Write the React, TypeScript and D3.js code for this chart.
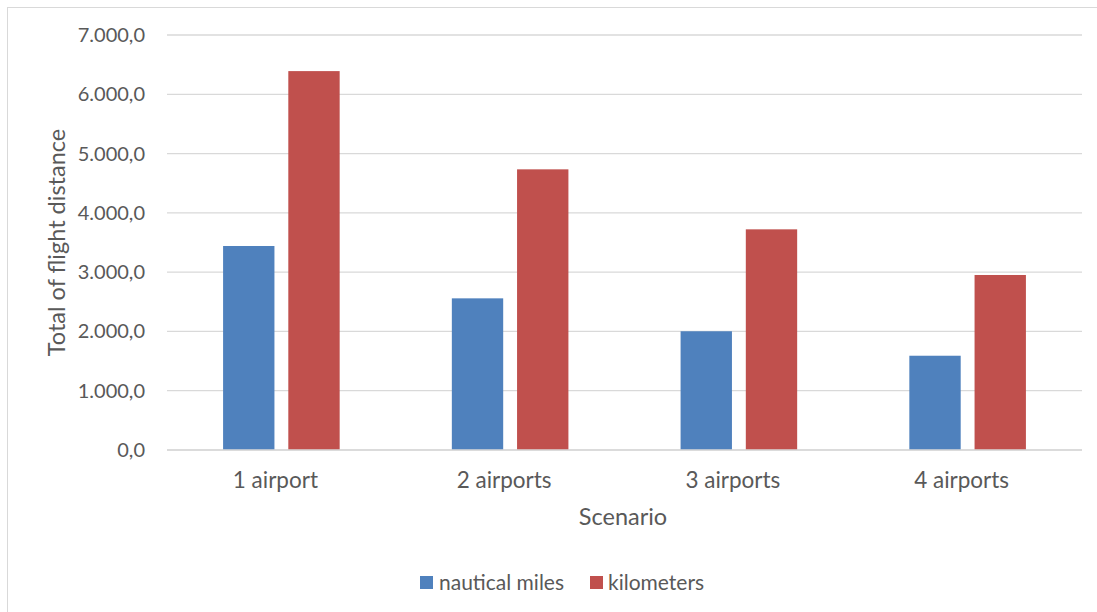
import React from "react";
import * as d3 from "d3";

const categories = ["1 airport", "2 airports", "3 airports", "4 airports"];
const seriesNames = ["nautical miles", "kilometers"];
const nauticalMiles = [3441, 2558, 2003, 1590];
const kilometers = [6391, 4734, 3722, 2952];
const yTicks = [0, 1000, 2000, 3000, 4000, 5000, 6000, 7000];
const colors = ["#4f81bd", "#c0504d"];

const W = 1097;
const H = 612;
const plot = { left: 167, right: 1082, top: 35, bottom: 450 };

const locale = d3.formatLocale({ decimal: ",", thousands: ".", grouping: [3], currency: ["", ""] });
const fmt = locale.format(",.1f");

export default function App() {
  const x0 = d3.scaleBand<string>().domain(categories).range([plot.left, plot.right]).paddingInner(0).paddingOuter(0);
  const y = d3.scaleLinear().domain([0, 7000]).range([plot.bottom, plot.top]);
  const bw = x0.bandwidth();
  const barW = bw * 0.2245;
  const gap = barW * 0.27;
  const series = [nauticalMiles, kilometers];
  const font = "Lato, 'Carlito', Calibri, sans-serif";
  const textColor = "#595959";

  return (
    <svg width={W} height={H} style={{ position: "absolute", left: 0, top: 0, background: "#fff" }} fontFamily={font}>
      <rect x={0} y={0} width={W} height={H} fill="#fff" />
      <rect x={7.5} y={7.5} width={W + 20} height={H + 20} fill="none" stroke="#d9d9d9" strokeWidth={1} />
      {yTicks.map((t) => (
        <g key={t}>
          <line x1={plot.left} x2={plot.right} y1={y(t)} y2={y(t)} stroke="#d9d9d9" strokeWidth={1.3} />
          <text x={145} y={y(t)} dy="0.35em" textAnchor="end" fontSize={20} fill={textColor}>
            {fmt(t)}
          </text>
        </g>
      ))}
      {categories.map((c, i) => {
        const cx = (x0(c) as number) + bw / 2;
        return (
          <g key={c}>
            {series.map((s, j) => {
              const bx = j === 0 ? cx - gap / 2 - barW : cx + gap / 2;
              return (
                <rect key={j} x={bx} y={y(s[i])} width={barW} height={y(0) - y(s[i])} fill={colors[j]} />
              );
            })}
            <text x={cx - 6} y={480} dy="0.35em" textAnchor="middle" fontSize={22.5} fill={textColor}>
              {c}
            </text>
          </g>
        );
      })}
      <line x1={plot.left} x2={plot.right} y1={y(0)} y2={y(0)} stroke="#d9d9d9" strokeWidth={1.3} />
      <text x={623} y={517} dy="0.35em" textAnchor="middle" fontSize={23.5} fill={textColor}>
        Scenario
      </text>
      <text
        transform={`translate(57,${(plot.top + plot.bottom) / 2}) rotate(-90)`}
        dy="0.35em"
        textAnchor="middle"
        fontSize={23.5}
        fill={textColor}
      >
        Total of flight distance
      </text>
      <g>
        <rect x={420} y={576} width={13} height={13} fill={colors[0]} />
        <text x={439} y={582.5} dy="0.35em" fontSize={21} fill={textColor}>
          {seriesNames[0]}
        </text>
        <rect x={590} y={576} width={13} height={13} fill={colors[1]} />
        <text x={608} y={582.5} dy="0.35em" fontSize={21} fill={textColor}>
          {seriesNames[1]}
        </text>
      </g>
    </svg>
  );
}
